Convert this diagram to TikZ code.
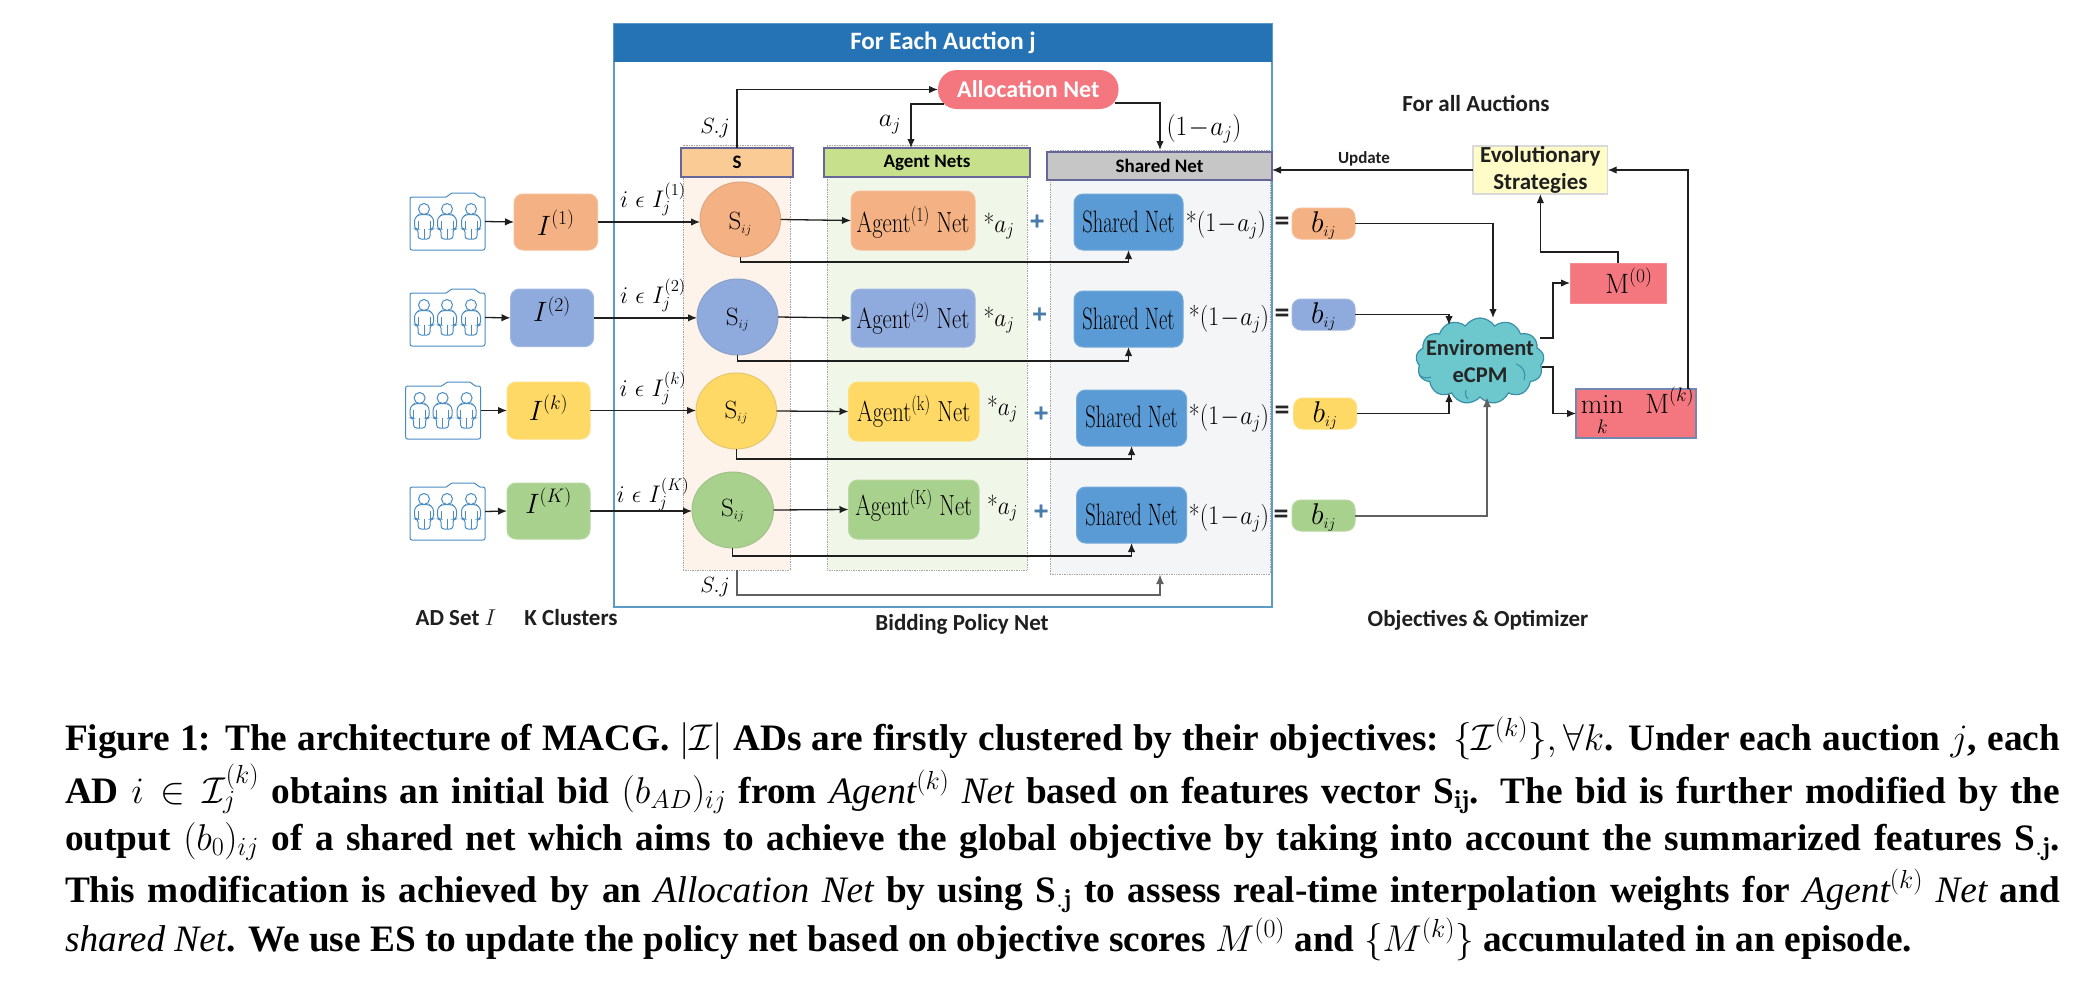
\RequirePackage{fix-cm}
\documentclass[tikz,border=0pt]{standalone}
\usepackage{fontspec}
\usepackage{graphicx}
\usetikzlibrary{arrows.meta,shapes.symbols,shapes.misc,shapes.geometric,calc}
\newfontfamily\carl{Carlito}
\newfontfamily\capf{Liberation Serif}
\newfontfamily\dej[BoldFeatures={FakeBold=1.5}]{DejaVu Sans}
\definecolor{cOr}{HTML}{F4B183}
\definecolor{cBl}{HTML}{8FAADC}
\definecolor{cYe}{HTML}{FFD966}
\definecolor{cGr}{HTML}{A9D18E}
\definecolor{cSh}{HTML}{5B9BD5}
\definecolor{cPk}{HTML}{F4777F}
\definecolor{cBan}{HTML}{2573B5}
\definecolor{cFr}{HTML}{5B9BC8}
\definecolor{cIc}{HTML}{4A8CC2}
\definecolor{cHs}{HTML}{FBCB96}
\definecolor{cHa}{HTML}{C6E08C}
\definecolor{cCs}{HTML}{FDF3EA}
\definecolor{cCa}{HTML}{F1F7E8}
\definecolor{cCh}{HTML}{F3F5F6}
\definecolor{cCl}{HTML}{6CC8CC}
\definecolor{cClb}{HTML}{3A8FA8}
\newcommand\fs[1]{\fontsize{#1}{#1}\selectfont}
\newcommand\rb[2]{\raisebox{#1pt}[0pt][0pt]{#2}}
\newcommand\Sij{$\mathrm{S}_{\scriptscriptstyle ij}$}
\newcommand\Bij{$b_{\scriptscriptstyle ij}$}
\newcommand\bx[7]{\pgfmathsetmacro\bw{#5-#3}\pgfmathsetmacro\bh{#6-#4}\pgfmathsetmacro\bcx{(#3+#5)/2}\pgfmathsetmacro\bcy{(#4+#6)/2}\node[#2,minimum width=\bw pt,minimum height=\bh pt] (#1) at (\bcx,\bcy) {#7};}
\newcommand\person[1]{%
  \draw[icon] (#1,16) circle (5.5);
  \draw[icon,rounded corners=3] (#1-6,46) -- (#1-6,36) -- (#1-9.5,36) -- (#1-9.5,25) -- (#1-5,21.5) -- (#1+5,21.5) -- (#1+9.5,25) -- (#1+9.5,36) -- (#1+6,36) -- (#1+6,46) -- cycle;
  \draw[icon] (#1,36) -- (#1,46) (#1-6,28) -- (#1-6,36) (#1+6,28) -- (#1+6,36);
}
\newcommand\folder[3]{%
  \bx{#1}{inner sep=0,outer sep=0}{#2}{#3}{#2+75}{#3+57}{}
  \begin{scope}[shift={(#2,#3)}]
    \draw[icon,rounded corners=2] (0,57) -- (0,4) -- (38,4) -- (40,0) -- (66,0) -- (68,4) -- (75,4) -- (75,57) -- cycle;
    \person{14}\person{37}\person{61}
  \end{scope}
}
\tikzset{
  rbox/.style={rounded corners=9pt,inner sep=0,outer sep=0,draw=#1!85!white,fill=#1,line width=1pt},
  circbox/.style={ellipse,inner sep=0,outer sep=0,draw=#1!80!gray,fill=#1,line width=1pt},
  colbox/.style={inner sep=0,outer sep=0,fill=#1,draw=gray!70,densely dotted,line width=.7pt},
  hdrbox/.style={inner sep=0,outer sep=0,fill=#1,draw=gray!80!blue,line width=1.2pt,font=\carl\bfseries\fs{19}},
  ttl/.style={inner sep=0,outer sep=0,text=black!88,font=\carl\bfseries\fs{23}},
  conn/.style={draw=black!88,line width=1.3pt,-{Latex[length=9pt,width=7.5pt]}},
  connG/.style={draw=black!62,line width=2pt,-{Latex[length=10pt,width=8pt]}},
  icon/.style={draw=cIc,line width=1pt},
  lab/.style={inner sep=0,outer sep=0},
  captxt/.style={inner sep=0,outer sep=0,anchor=base west,font=\capf\bfseries\fs{37.3}},
  plustxt/.style={inner sep=0,outer sep=0,text=cSh!80!black,font=\dej\bfseries\fs{20}},
  eqtxt/.style={inner sep=0,outer sep=0,text=black!85,font=\carl\bfseries\fs{30}},
  inarc/.style={draw=cClb,line width=1.1pt}
}
\begin{document}
\begin{tikzpicture}[x=1pt,y=-1pt]
\useasboundingbox (0,0) rectangle (2079,988);
\fill[white] (0,0) rectangle (2079,988);
% frame
\bx{frame}{draw=cFr,line width=1.8pt,inner sep=0,outer sep=0}{614}{24}{1272}{607}{}
\bx{banner}{fill=cBan,inner sep=0,outer sep=0,text=white,font=\carl\bfseries\fs{25}}{614}{24}{1272}{62}{For Each Auction j}
% columns
\bx{colS}{colbox=cCs}{683}{145}{790}{570}{}
\bx{colA}{colbox=cCa}{827}{145}{1027}{570}{}
\bx{colSh}{colbox=cCh}{1050}{150}{1270}{574}{}
\bx{hdrS}{hdrbox=cHs}{681}{148}{793}{177}{S}
\bx{hdrA}{hdrbox=cHa}{824}{148}{1030}{177}{Agent Nets}
\bx{hdrSh}{hdrbox={gray!45}}{1047}{152}{1272}{180}{Shared Net}
\bx{alloc}{fill=cPk,rounded corners=19pt,inner sep=0,outer sep=0,text=white,font=\carl\bfseries\fs{24}}{938}{70}{1118.5}{109}{Allocation Net}
% row 1
\folder{f1}{410}{193}
\bx{I1}{rbox=cOr,font=\fs{28}}{514}{194}{597.6}{250}{\rb{-13}{$I^{(1)}$}}
\bx{S1}{circbox=cOr,font=\fs{25}}{700}{182}{780.6}{257}{\rb{-10}{\Sij}}
\bx{A1}{rbox=cOr,font=\fs{29}}{851}{191}{975}{250}{\rb{-12}{\scalebox{.78}[1]{Agent$^{(\mathrm{1})}$ Net}}}
\bx{Sh1}{rbox=cSh,font=\fs{31}}{1074}{194}{1183}{250}{\rb{-10}{\scalebox{.66}[1]{Shared Net}}}
\bx{b1}{rbox=cOr,font=\fs{30}}{1292}{208}{1355}{239}{\rb{-8.5}{\Bij}}
% row 2
\folder{f2}{410}{289}
\bx{I2}{rbox=cBl,font=\fs{28}}{510.5}{289}{593.6}{346.7}{\rb{-4}{$I^{(2)}$}}
\bx{S2}{circbox=cBl,font=\fs{25}}{697}{279}{778}{355}{\rb{-8}{\Sij}}
\bx{A2}{rbox=cBl,font=\fs{29}}{851}{289}{975}{347}{\rb{-10}{\scalebox{.78}[1]{Agent$^{(\mathrm{2})}$ Net}}}
\bx{Sh2}{rbox=cSh,font=\fs{31}}{1074}{291}{1183}{347}{\rb{-10}{\scalebox{.66}[1]{Shared Net}}}
\bx{b2}{rbox=cBl,font=\fs{30}}{1292}{299}{1355}{330}{\rb{-8.5}{\Bij}}
% row 3
\folder{f3}{405.6}{382}
\bx{I3}{rbox=cYe,font=\fs{28}}{507}{382}{590}{439}{\rb{-9.5}{$I^{(k)}$}}
\bx{S3}{circbox=cYe,font=\fs{25}}{696}{373}{776.6}{449}{\rb{-7}{\Sij}}
\bx{A3}{rbox=cYe,font=\fs{29}}{848.5}{382}{979}{441}{\rb{-10}{\scalebox{.78}[1]{Agent$^{(\mathrm{k})}$ Net}}}
\bx{Sh3}{rbox=cSh,font=\fs{31}}{1076.5}{390}{1186.6}{446}{\rb{-9}{\scalebox{.66}[1]{Shared Net}}}
\bx{b3}{rbox=cYe,font=\fs{30}}{1293.7}{398}{1356.6}{429}{\rb{-8.5}{\Bij}}
% row 4
\folder{f4}{410}{483}
\bx{I4}{rbox=cGr,font=\fs{28}}{507}{483}{590}{539}{\rb{-2}{$I^{(K)}$}}
\bx{S4}{circbox=cGr,font=\fs{25}}{692}{472}{773.5}{548}{\rb{-6}{\Sij}}
\bx{A4}{rbox=cGr,font=\fs{29}}{848.5}{480}{979}{539}{\rb{-5.5}{\scalebox{.78}[1]{Agent$^{(\mathrm{K})}$ Net}}}
\bx{Sh4}{rbox=cSh,font=\fs{31}}{1076.5}{487}{1186.6}{543}{\rb{-10}{\scalebox{.66}[1]{Shared Net}}}
\bx{b4}{rbox=cGr,font=\fs{30}}{1292}{500}{1355}{531}{\rb{-8.5}{\Bij}}
% right side
\bx{ES}{fill=yellow!22,draw=gray!30,line width=1.2pt,inner sep=0,outer sep=0,align=center,text=black!88,font=\carl\bfseries\fs{23}}{1473}{146}{1607.7}{194}{Evolutionary\\[4pt]Strategies}
\bx{M0}{fill=cPk,draw=cPk!85!white,line width=1pt,inner sep=0,outer sep=0,font=\fs{28}}{1570}{263}{1666}{303}{\hspace*{22pt}\rb{-10}{$\mathrm{M}^{(0)}$}}
\bx{minM}{fill=cPk,draw=cBl!80!black,line width=1.2pt,inner sep=0,outer sep=0,font=\fs{28}}{1576}{389}{1696}{438}{\hspace*{3pt}\rb{0}{$\displaystyle\min\limits_{\rb{-14}{$\scriptstyle k$}}\ \ \mathrm{M}^{(k)}$}}
\node[cloud,cloud puffs=13,cloud puff arc=115,cloud ignores aspect,draw=cClb,fill=cCl,line width=1.2pt,inner sep=0,outer sep=0,minimum width=128pt,minimum height=86pt] (cl) at (1480,361) {};
\draw[inarc] ([shift={(36,3)}]cl.center) to[bend left=50] ([shift={(44,19)}]cl.center);
\draw[inarc] ([shift={(-61,14)}]cl.center) to[bend right=30] ([shift={(-49,16)}]cl.center);
\draw[inarc] ([shift={(-14,29)}]cl.center) to[bend right=30] ([shift={(-12,38)}]cl.center);
% cloud label
\node[lab,align=center,text=black!85,font=\carl\bfseries\fs{22.5}] (clT) at (1480,361) {Enviroment\\[4pt]eCPM};
% operators and factors
\foreach \n/\x/\y in {p1/1037/221,p2/1039.5/314,p3/1041/413,p4/1041/511}{\node[plustxt] (\n) at (\x,\y) {+};}
\foreach \n/\x/\y in {e1/1282/224,e2/1282/316,e3/1282/413,e4/1281/517}{\node[eqtxt] (\n) at (\x,\y) {=};}
\foreach \n/\x/\y in {aa1/999/226,aa2/999/320,aa3/1002.5/409,aa4/1002.5/508}{\node[lab,font=\fs{26}] (\n) at (\x,\y) {\scalebox{.9}[1]{*$a_j$}};}
\foreach \n/\x/\y in {bb1/1226/225,bb2/1229/319,bb3/1229/418,bb4/1229/518}{\node[lab,font=\fs{27}] (\n) at (\x,\y) {\scalebox{.88}[1]{*$(1\!-\!a_j)$}};}
\foreach \n/\y/\k in {ii1/199/(1),ii2/295/(2),ii3/388/(k),ii4/494/(K)}{\node[lab,font=\fs{24}] (\n) at (653,\y) {$i\ \epsilon\ I_j^{\k}$};}
\node[lab,font=\fs{22}] (sjt) at (715,128) {$S.j$};
\node[lab,font=\fs{22}] (sjb) at (715,587) {$S.j$};
\node[lab,font=\fs{26}] (ajl) at (890,125) {$a_j$};
\node[lab,font=\fs{28}] (oml) at (1204,129) {\scalebox{.92}[1]{$(1\!-\!a_j)$}};
% titles
\node[ttl] (t1) at (1476,103) {For all Auctions};
\node[ttl,font=\carl\bfseries\fs{17}] (t2) at (1364,159) {Update};
\node[ttl] (t3) at (456,618) {AD Set $I$};
\node[ttl] (t4) at (571,618) {K Clusters};
\node[ttl] (t5) at (962,624) {Bidding Policy Net};
\node[ttl] (t6) at (1478,620) {Objectives \& Optimizer};
% connectors
\foreach \i in {1,2,3,4}{
  \draw[conn] (f\i.east) -- (I\i.west);
  \draw[conn] (I\i.east) -- (I\i.east -| S\i.west);
  \draw[conn] (S\i.east) -- (A\i.west);
}
\draw[conn] (S1.south) -- ++(0,5) -| (Sh1.south);
\draw[conn] (S2.south) -- ++(0,6) -| (Sh2.south);
\draw[conn] (S3.south) -- ++(0,10) -| (Sh3.south);
\draw[conn] (S4.south) -- ++(0,8) -| (Sh4.south);
\draw[conn] (hdrS.north) |- (alloc.west);
\draw[conn] ([shift={(5.5,-5)}]alloc.south west) -| ([xshift=-16pt]hdrA.north);
\draw[conn] ([shift={(-3.5,-6)}]alloc.south east) -| (colSh.north);
\draw[connG] (colS.south) -- ++(0,25) -| (colSh.south);
\draw[conn] (ES.west) -- (ES.west -| hdrSh.east);
\draw[conn] (b1.east) -| ([xshift=13pt]cl.north);
\draw[conn] (b2.east) -| ([shift={(-31,7)}]cl.north);
\draw[conn] (b3.east) -| ([shift={(-31,-4)}]cl.south);
\draw[connG] (b4.east) -| ([xshift=7pt]cl.south);
\draw[conn] ([shift={(60,-23)}]cl.center) -- ++(13,0) |- (M0.west);
\draw[conn] ([shift={(62,6)}]cl.center) -- ++(11,0) |- (minM.west);
\draw[conn] (M0.north) -- ++(0,-11) -| (ES.south);
\draw[conn] ([xshift=52pt]minM.north) |- (ES.east);
% caption
\node[captxt] (c1) at (65,750) {\makebox[1995pt][s]{Figure 1: The architecture of MACG. $|\mathcal{I}|$ ADs are firstly clustered by their objectives: $\{\mathcal{I}^{(k)}\},\forall k$. Under each auction $j$, each}};
\node[captxt] (c2) at (65,803) {\makebox[1995pt][s]{AD $i\in\mathcal{I}_j^{(k)}$ obtains an initial bid $(b_{AD})_{ij}$ from {\mdseries\itshape Agent}$^{(k)}$ {\mdseries\itshape Net} based on features vector S$_{\mathbf{ij}}$. The bid is further modified by the}};
\node[captxt] (c3) at (65,850) {\makebox[1995pt][s]{output $(b_0)_{ij}$ of a shared net which aims to achieve the global objective by taking into account the summarized features S$_{.\mathbf{j}}$.}};
\node[captxt] (c4) at (65,902) {\makebox[1995pt][s]{This modification is achieved by an {\mdseries\itshape Allocation Net} by using S$_{.\mathbf{j}}$ to assess real-time interpolation weights for {\mdseries\itshape Agent}$^{(k)}$ {\mdseries\itshape Net} and}};
\node[captxt] (c5) at (65,951) {{\mdseries\itshape shared Net}. We use ES to update the policy net based on objective scores $M^{(0)}$ and $\{M^{(k)}\}$ accumulated in an episode.};
\end{tikzpicture}
\end{document}
